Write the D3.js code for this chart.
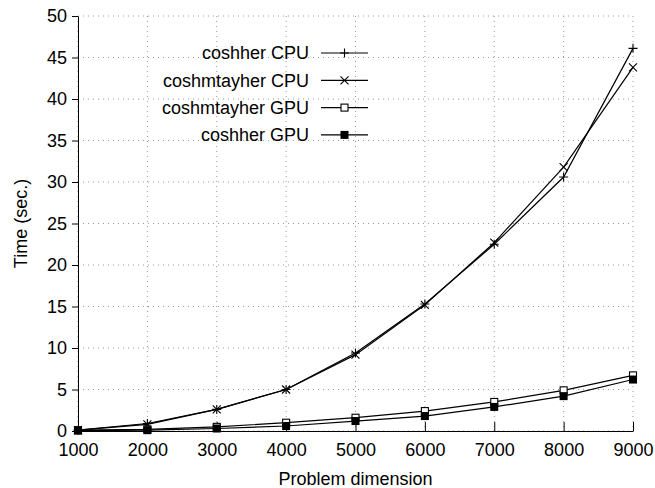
<!DOCTYPE html>
<html>
<head>
<meta charset="utf-8">
<script src="https://cdn.jsdelivr.net/npm/d3@7"></script>
<style>
  body { margin: 0; background: #fff; }
  text { font-family: "Liberation Sans", Arial, sans-serif; fill: #000; }
</style>
</head>
<body>
<div id="chart"></div>
<script>
var svgWidth = 655;
var svgHeight = 488;

var margin = { top: 16, right: 22, bottom: 57, left: 78 };
var width = svgWidth - margin.left - margin.right;
var height = svgHeight - margin.top - margin.bottom;

// data
var dims = [1000, 2000, 3000, 4000, 5000, 6000, 7000, 8000, 9000];
var coshherCPU = [0.1, 0.9, 2.6, 5.0, 9.4, 15.3, 22.5, 30.6, 46.1];
var coshmtayherCPU = [0.1, 0.8, 2.6, 5.0, 9.2, 15.2, 22.7, 31.8, 43.8];
var coshmtayherGPU = [0.1, 0.2, 0.5, 1.0, 1.6, 2.4, 3.5, 4.9, 6.7];
var coshherGPU = [0.05, 0.1, 0.3, 0.6, 1.2, 1.8, 2.9, 4.2, 6.2];
var xTicks = [1000, 2000, 3000, 4000, 5000, 6000, 7000, 8000, 9000];
var yTicks = [0, 5, 10, 15, 20, 25, 30, 35, 40, 45, 50];

var series = [
  { name: "coshher CPU", values: coshherCPU, marker: "plus" },
  { name: "coshmtayher CPU", values: coshmtayherCPU, marker: "cross" },
  { name: "coshmtayher GPU", values: coshmtayherGPU, marker: "open" },
  { name: "coshher GPU", values: coshherGPU, marker: "filled" }
];

var svg = d3.select("#chart")
  .append("svg")
  .attr("width", svgWidth)
  .attr("height", svgHeight);

var chartGroup = svg.append("g")
  .attr("transform", `translate(${margin.left}, ${margin.top})`);

var x = d3.scaleLinear().domain([1000, 9000]).range([0, width]);
var y = d3.scaleLinear().domain([0, 50]).range([height, 0]);

// dotted grid
chartGroup.append("g")
  .selectAll("line")
  .data(xTicks)
  .enter()
  .append("line")
  .attr("x1", d => x(d)).attr("x2", d => x(d))
  .attr("y1", 0).attr("y2", height)
  .attr("stroke", "#999")
  .attr("stroke-width", 1)
  .attr("stroke-dasharray", "1,4");

chartGroup.append("g")
  .selectAll("line")
  .data(yTicks)
  .enter()
  .append("line")
  .attr("x1", 0).attr("x2", width)
  .attr("y1", d => y(d)).attr("y2", d => y(d))
  .attr("stroke", "#999")
  .attr("stroke-width", 1)
  .attr("stroke-dasharray", "1,4");

// axes
var xAxis = chartGroup.append("g")
  .attr("transform", `translate(0, ${height})`)
  .call(d3.axisBottom(x).tickValues(xTicks).tickFormat(d3.format("d")).tickSizeInner(-9).tickSizeOuter(0).tickPadding(12));
xAxis.select(".domain").attr("stroke", "#000");
xAxis.selectAll("text").attr("font-size", "18px").attr("font-family", "Liberation Sans, Arial, sans-serif");

var yAxis = chartGroup.append("g")
  .call(d3.axisLeft(y).tickValues(yTicks).tickSizeInner(6).tickSizeOuter(0).tickPadding(5));
yAxis.select(".domain").attr("stroke", "#000");
yAxis.selectAll("text").attr("font-size", "18px").attr("font-family", "Liberation Sans, Arial, sans-serif");

// axis titles
chartGroup.append("text")
  .attr("x", width / 2)
  .attr("y", height + 54)
  .attr("text-anchor", "middle")
  .attr("font-size", "18px")
  .text("Problem dimension");

chartGroup.append("text")
  .attr("transform", "rotate(-90)")
  .attr("x", -height / 2)
  .attr("y", -margin.left + 27)
  .attr("text-anchor", "middle")
  .attr("font-size", "18px")
  .text("Time (sec.)");

var line = d3.line()
  .x((d, i) => x(dims[i]))
  .y(d => y(d));

function drawMarker(g, type, cx, cy) {
  if (type === "plus") {
    g.append("path")
      .attr("d", `M${cx - 4.5},${cy}H${cx + 4.5}M${cx},${cy - 4.5}V${cy + 4.5}`)
      .attr("stroke", "#000").attr("stroke-width", 1.1);
  } else if (type === "cross") {
    g.append("path")
      .attr("d", `M${cx - 4},${cy - 4}L${cx + 4},${cy + 4}M${cx - 4},${cy + 4}L${cx + 4},${cy - 4}`)
      .attr("stroke", "#000").attr("stroke-width", 1.1);
  } else if (type === "open") {
    g.append("rect")
      .attr("x", cx - 3.5).attr("y", cy - 3.5).attr("width", 7).attr("height", 7)
      .attr("fill", "#fff").attr("stroke", "#000").attr("stroke-width", 1.1);
  } else {
    g.append("rect")
      .attr("x", cx - 4).attr("y", cy - 4).attr("width", 8).attr("height", 8)
      .attr("fill", "#000");
  }
}

series.forEach(s => {
  var g = chartGroup.append("g");
  g.append("path")
    .datum(s.values)
    .attr("d", line)
    .attr("fill", "none")
    .attr("stroke", "#000")
    .attr("stroke-width", 1.2);
  s.values.forEach((v, i) => drawMarker(g, s.marker, x(dims[i]), y(v)));
});

// legend
var legend = chartGroup.append("g");
series.forEach((s, i) => {
  var ly = 37 + i * 27.3;
  legend.append("text")
    .attr("x", 231)
    .attr("y", ly)
    .attr("dy", "0.35em")
    .attr("text-anchor", "end")
    .attr("font-size", "18px")
    .text(s.name);
  legend.append("line")
    .attr("x1", 243).attr("x2", 290)
    .attr("y1", ly).attr("y2", ly)
    .attr("stroke", "#000").attr("stroke-width", 1.2);
  drawMarker(legend, s.marker, 266.5, ly);
});
</script>
</body>
</html>
